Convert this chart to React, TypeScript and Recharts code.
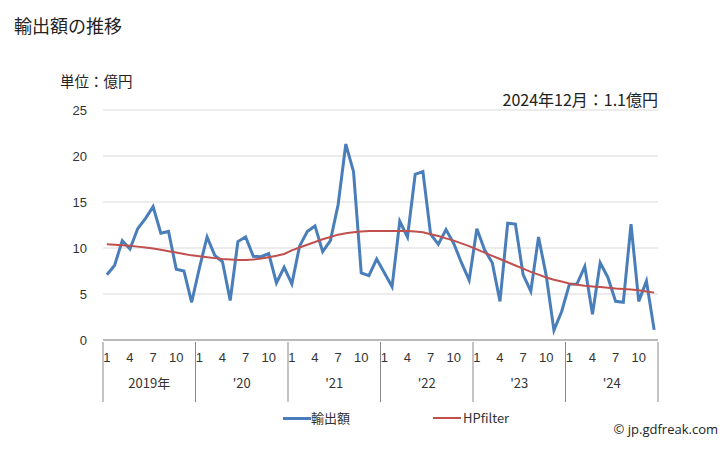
import React from 'react';
import { LineChart, Line, XAxis, YAxis, CartesianGrid, Legend } from 'recharts';

const years = ['2019年', "'20", "'21", "'22", "'23", "'24"];
const monthTicks = [1, 4, 7, 10];

const exports = [
    7.1, 8.1, 10.8, 9.9, 12.1, 13.2, 14.5, 11.6, 11.8, 7.7, 7.5, 4.1,
    7.8, 11.2, 9.2, 8.5, 4.3, 10.7, 11.2, 9.1, 9.05, 9.4, 6.2, 7.9,
    6.1, 10.2, 11.8, 12.4, 9.6, 10.8, 14.7, 21.3, 18.3, 7.3, 7.0, 8.8,
    7.3, 5.8, 12.9, 11.2, 18.0, 18.3, 11.5, 10.4, 12.0, 10.5, 8.4, 6.5,
    12.1, 9.8, 8.4, 4.2, 12.7, 12.6, 7.1, 5.3, 11.2, 7.0, 1.05, 3.1,
    6.05, 6.1, 8.0, 2.8, 8.4, 6.8, 4.2, 4.1, 12.6, 4.2, 6.4, 1.1,
];

const hpFilter = [
    10.4, 10.35, 10.3, 10.25, 10.15, 10.05, 9.95, 9.8, 9.65, 9.5, 9.35, 9.2,
    9.1, 9.0, 8.9, 8.8, 8.75, 8.7, 8.7, 8.75, 8.85, 9.0, 9.15, 9.35,
    9.75, 10.05, 10.35, 10.65, 10.95, 11.2, 11.45, 11.6, 11.7, 11.8, 11.85, 11.85,
    11.85, 11.85, 11.85, 11.85, 11.8, 11.7, 11.5, 11.3, 11.05, 10.8, 10.5, 10.2,
    9.85, 9.5, 9.15, 8.8, 8.45, 8.1, 7.75, 7.4, 7.1, 6.8, 6.55, 6.35,
    6.15, 6.0, 5.9, 5.82, 5.75, 5.68, 5.6, 5.55, 5.5, 5.4, 5.28, 5.15,
];

const yTicks = [0, 5, 10, 15, 20, 25];

const data = exports.map((v, i) => ({
    key: String(i),
    value: v,
    hp: hpFilter[i],
}));

const FONT = '"Liberation Sans", "Noto Sans CJK JP", sans-serif';
const JP_FONT = '"Noto Sans CJK JP", "Liberation Sans", sans-serif';
const AXIS_COLOR = '#898989';
const BAND = (658 - 103) / data.length;

const MonthTick = (props: any) => {
    const { x, y, payload } = props;
    const idx = Number(payload.index);
    const month = (idx % 12) + 1;
    const year = Math.floor(idx / 12);
    const left = x - BAND / 2;
    return (
        <g>
            {monthTicks.includes(month) && (
                <text x={x} y={y + 20} textAnchor="middle" fontSize={13} fill="#333" fontFamily={FONT}>
                    {month}
                </text>
            )}
            {month === 1 && (
                <>
                    <line x1={left} y1={y} x2={left} y2={y + 60} stroke={AXIS_COLOR} strokeWidth={1} />
                    <text x={left + BAND * 6} y={y + 46} textAnchor="middle" fontSize={13} fill="#333" fontFamily={JP_FONT}>
                        {years[year]}
                    </text>
                </>
            )}
            {idx === data.length - 1 && (
                <line x1={x + BAND / 2} y1={y} x2={x + BAND / 2} y2={y + 60} stroke={AXIS_COLOR} strokeWidth={1} />
            )}
        </g>
    );
};

const LegendContent = () => (
    <div style={{ position: 'relative', height: 20, fontFamily: JP_FONT, fontSize: 13, color: '#333' }}>
        <div style={{ position: 'absolute', left: 283, top: 9, width: 28, height: 3, background: '#4a7ebb' }} />
        <span style={{ position: 'absolute', left: 311, top: 0 }}>輸出額</span>
        <div style={{ position: 'absolute', left: 433, top: 9, width: 28, height: 2, background: '#c0504d' }} />
        <span style={{ position: 'absolute', left: 463, top: 0 }}>HPfilter</span>
    </div>
);

const App: React.FC = () => {
    return (
        <div style={{ position: 'absolute', left: 0, top: 0, width: 728, height: 450, background: '#fff', fontFamily: JP_FONT }}>
            <div style={{ position: 'absolute', left: 14, top: 12, fontSize: 18, color: '#222' }}>輸出額の推移</div>
            <div style={{ position: 'absolute', left: 60, top: 70, fontSize: 14.5, color: '#222' }}>単位：億円</div>
            <div style={{ position: 'absolute', right: 70, top: 87, fontSize: 16, color: '#222' }}>2024年12月：1.1億円</div>
            <LineChart
                width={728}
                height={450}
                data={data}
                margin={{ top: 110, right: 70, left: 63, bottom: 29 }}
            >
                <CartesianGrid vertical={false} stroke="#d9d9d9" />
                <YAxis
                    domain={[0, 25]}
                    ticks={yTicks}
                    axisLine={false}
                    tickLine={false}
                    width={40}
                    tickMargin={10}
                    tick={{ fill: '#333', fontSize: 13, fontFamily: FONT }}
                />
                <XAxis
                    dataKey="key"
                    interval={0}
                    tickLine={false}
                    tickSize={0}
                    height={61}
                    padding={{ left: BAND / 2, right: BAND / 2 }}
                    stroke={AXIS_COLOR}
                    tick={<MonthTick />}
                />
                <Legend
                    verticalAlign="bottom"
                    align="left"
                    wrapperStyle={{ left: 0, width: 728, bottom: 22 }}
                    content={<LegendContent />}
                />
                <Line dataKey="value" name="輸出額" stroke="#4a7ebb" strokeWidth={3} dot={false} isAnimationActive={false} />
                <Line dataKey="hp" name="HPfilter" stroke="#c0504d" strokeWidth={2} dot={false} isAnimationActive={false} />
            </LineChart>
            <div style={{ position: 'absolute', right: 10, top: 420, fontSize: 13, color: '#222', fontFamily: '"Open Sans", "Noto Sans", sans-serif' }}>
                © jp.gdfreak.com
            </div>
        </div>
    );
};

export default App;
